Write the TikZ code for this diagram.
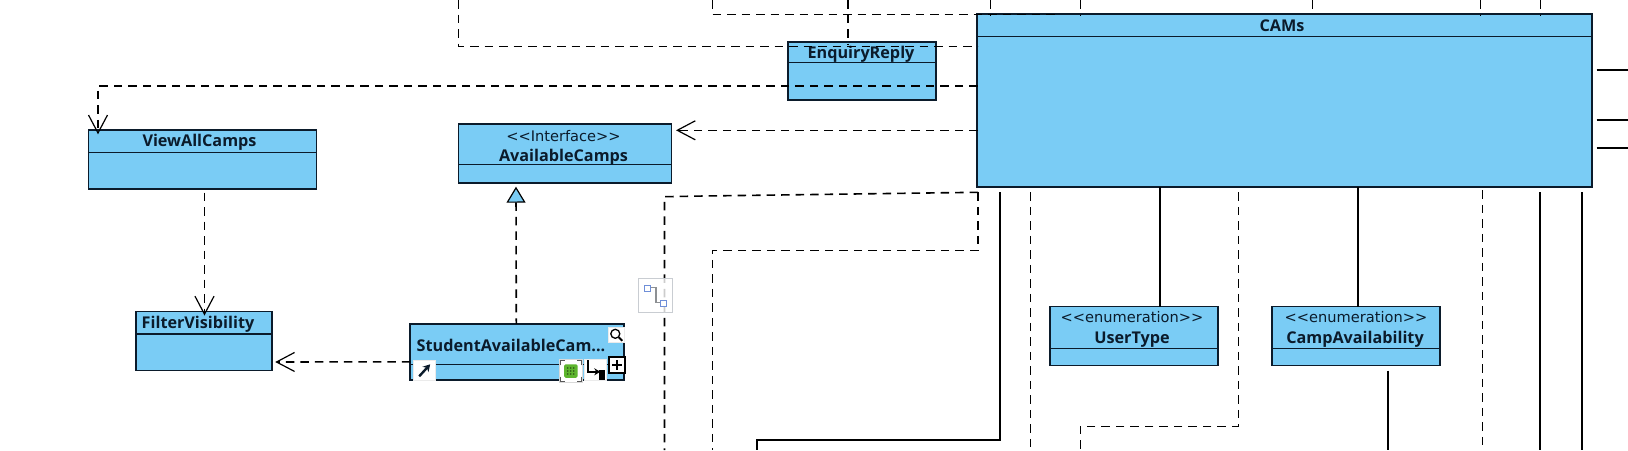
\documentclass[tikz,border=0pt]{standalone}
\usepackage{fontspec}
\setmainfont{Open Sans}
\newfontfamily\stereofont{DejaVu Sans}
\usetikzlibrary{arrows,arrows.meta,calc}
\definecolor{classblue}{HTML}{7ACCF5}
\definecolor{classink}{HTML}{0B1B2B}
\definecolor{icongrey}{HTML}{C9CDD2}
\definecolor{iconblue}{HTML}{6F8FD8}
\definecolor{icongreen}{HTML}{5DB52E}

\begin{document}
\begin{tikzpicture}
  [
    x=1pt, y=-1pt,
    classbox/.style =
      {draw=classink, fill=classblue, rectangle, line width=1.7pt, inner sep=0pt, outer sep=0pt},
    classname/.style =
      {align=center, inner sep=0pt, text=classink, font=\fontsize{16.2}{20}\selectfont\bfseries},
    stereo/.style =
      {align=center, inner sep=0pt, text=classink, font=\fontsize{14.6}{19}\stereofont},
    divider/.style =
      {draw=classink, line width=1.5pt},
    dep/.style =
      {draw=black, line width=1.6pt, dash pattern=on 8.5pt off 6pt},
    deparrow/.style =
      {dep, -{Straight Barb[length=18pt, width=19pt, line width=1.2pt]}},
    realize/.style =
      {dep, {Triangle[open, fill=classblue, length=16pt, width=19pt, line width=1.2pt]}-},
    assoc/.style =
      {draw=black, line width=1.7pt},
    iconbox/.style =
      {draw=white!92!black, fill=white, rectangle, line width=.8pt, inner sep=0pt, outer sep=0pt}
  ]

\useasboundingbox (0,0) rectangle (1628,450);

\node[classbox, minimum width=228, minimum height=58.4] (viewall) at (202.5,159.5) {};
\node[classbox, minimum width=213, minimum height=58.4] (available) at (565,153.5) {};
\node[classbox, minimum width=135.5, minimum height=59] (filter) at (204,341) {};
\node[classbox, minimum width=213.4, minimum height=55.7] (student) at (517,351.8) {};
\node[classbox, minimum width=148, minimum height=58] (enquiry) at (862.3,71.3) {};
\node[classbox, minimum width=615.6, minimum height=173] (cams) at (1284.5,100.8) {};
\node[classbox, minimum width=167.4, minimum height=59] (usertype) at (1134,336) {};
\node[classbox, minimum width=167.4, minimum height=59] (campavail) at (1356,336) {};

\draw[divider] ($(viewall.north west)+(0,22)$) -- ($(viewall.north east)+(0,22)$);
\draw[divider] ($(available.north west)+(0,40)$) -- ($(available.north east)+(0,40)$);
\draw[divider] ($(filter.north west)+(0,22.5)$) -- ($(filter.north east)+(0,22.5)$);
\draw[divider] ($(student.north west)+(0,40.3)$) -- ($(student.north east)+(0,40.3)$);
\draw[divider] ($(enquiry.north west)+(0,20)$) -- ($(enquiry.north east)+(0,20)$);
\draw[divider] ($(cams.north west)+(0,22)$) -- ($(cams.north east)+(0,22)$);
\draw[divider] ($(usertype.north west)+(0,42)$) -- ($(usertype.north east)+(0,42)$);
\draw[divider] ($(campavail.north west)+(0,42)$) -- ($(campavail.north east)+(0,42)$);

\node[classname] (viewalltext) at (199.5,142) {ViewAllCamps};
\node[stereo] (availablestereo) at (563.5,136.5) {<{}<Interface>{}>};
\node[classname] (availabletext) at (563.5,157) {AvailableCamps};
\node[classname] (filtertext) at (198,324) {FilterVisibility};
\node[classname] (studenttext) at (511,345) {StudentAvailableCam...};
\node[classname] (enquirytext) at (861,54.5) {EnquiryReply};
\node[classname] (camstext) at (1282,25.5) {CAMs};
\node[stereo] (usertypestereo) at (1132,317.5) {<{}<enumeration>{}>};
\node[classname] (usertypetext) at (1132,339.5) {UserType};
\node[stereo] (campstereo) at (1356,317.5) {<{}<enumeration>{}>};
\node[classname] (camptext) at (1355,339.5) {CampAvailability};

\coordinate (topa) at (458.5,0);
\coordinate (topb) at (712.3,0);
\coordinate (topc) at (848,0);
\coordinate (topd) at (990.3,0);
\coordinate (tope) at (1080.3,0);
\coordinate (topf) at (1312.3,0);
\coordinate (topg) at (1480.3,0);
\coordinate (toph) at (1540.3,0);
\coordinate (sidea) at (1628,70.3);
\coordinate (sideb) at (1628,120.3);
\coordinate (sidec) at (1628,148.3);
\coordinate (bota) at (664.5,450);
\coordinate (botb) at (712.3,450);
\coordinate (botc) at (756.7,450);
\coordinate (botd) at (1030.3,450);
\coordinate (bote) at (1080.3,450);
\coordinate (botf) at (1388.3,450);
\coordinate (botg) at (1482.3,450);
\coordinate (both) at (1540.3,450);
\coordinate (boti) at (1582.3,450);

\draw [deparrow] ($(cams.west)+(1,-14.8)$) -| ($(viewall.north west)+(9.5,4)$);
\draw [deparrow] ($(cams.west)+(1,29.5)$) -- ($(available.north east)+(4.5,6)$);
\draw [dep] (topa) |- ($(cams.west)+(1,-54.5)$);
\draw [dep] (topb) |- ($(cams.north west)+(78,0)$);
\draw [dep] (topc) -- ++(0,44);
\draw [dep] (topd) -- ++(0,16);
\draw [dep] (tope) -- ++(0,16);
\draw [dep] (topf) -- ++(0,14);
\draw [dep] (topg) -- ++(0,16);
\draw [dep] (toph) -- ++(0,16);

\draw [deparrow] ($(viewall.south)+(2,4)$) -- ($(filter.north)+(0.5,4)$);
\draw [realize] ($(available.south west)+(57.5,4)$) -- ($(student.north)+(-0.7,0)$);
\draw [deparrow] ($(student.west)+(0,10)$) -- ($(filter.east)+(3.5,21)$);

\draw [dep] ($(cams.south west)+(1.5,5)$) -- (704,196) -- (664.5,196.7) -- (bota);
\draw [dep] ($(cams.south west)+(1.5,5)$) -- ++(0,58) -| (botb);
\draw [assoc] ($(cams.south west)+(23.6,5)$) |- (780,440) -| (botc);
\draw [dep] ($(cams.south west)+(53.6,5)$) -- (botd);
\draw [assoc] (cams.south -| 1160.3,0) -- (usertype.north -| 1160.3,0);
\draw [dep] ($(cams.south west)+(261.6,5)$) -- ++(0,234) -| (bote);
\draw [assoc] (cams.south -| 1358.3,0) -- (campavail.north -| 1358.3,0);
\draw [assoc] ($(campavail.south west)+(116,5)$) -- (botf);
\draw [dep] ($(cams.south west)+(505.6,3)$) -- (botg);
\draw [assoc] ($(cams.south west)+(563.6,5)$) -- (both);
\draw [assoc] ($(cams.south west)+(605.6,5)$) -- (boti);
\draw [assoc] ($(cams.north east)+(4.4,56)$) -- (sidea);
\draw [assoc] ($(cams.north east)+(4.4,106)$) -- (sideb);
\draw [assoc] ($(cams.north east)+(4.4,134)$) -- (sidec);

\node[draw=icongrey, fill=white, fill opacity=.8, rectangle, line width=1.2pt, inner sep=0pt, minimum size=34] (routehint) at (655.7,295.3) {};
\draw[icongrey!70!black, line width=1.2pt] (650.7,287.3) -- (656,287.3) -- (656,302.7) -- (660.7,302.7);
\node[draw=iconblue, fill=white, rectangle, line width=1pt, inner sep=0pt, minimum size=6.5] (hinta) at (647.3,288.3) {};
\node[draw=iconblue, fill=white, rectangle, line width=1pt, inner sep=0pt, minimum size=6.5] (hintb) at (663.7,303.7) {};

\node[iconbox, minimum width=21.7, minimum height=20.7] (linkicon) at (424.2,370.3) {};
\draw[line width=2.4pt, -{Stealth[length=7pt, width=8pt]}, classink] ($(linkicon.center)+(-5,6)$) -- ($(linkicon.center)+(6,-6)$);

\node[iconbox, minimum width=15.3, minimum height=15] (zoomicon) at (616.3,334.8) {};
\draw[line width=1.3pt] ($(zoomicon.center)+(-1,-1)$) circle (4.5);
\draw[line width=1.8pt] ($(zoomicon.center)+(2.5,2.5)$) -- ($(zoomicon.center)+(6,6)$);

\node[iconbox, draw=white!85!black, minimum width=23.7, minimum height=23.4] (resicon) at (570.8,371) {};
\draw[line width=1.3pt, gray!70!black] ($(resicon.north west)+(1.5,6)$) |- ($(resicon.north west)+(6,1.5)$);
\draw[line width=1.3pt, gray!70!black] ($(resicon.north east)+(-1.5,6)$) |- ($(resicon.north east)+(-6,1.5)$);
\draw[line width=1.3pt, gray!70!black] ($(resicon.south west)+(1.5,-6)$) |- ($(resicon.south west)+(6,-1.5)$);
\draw[line width=1.3pt, gray!70!black] ($(resicon.south east)+(-1.5,-6)$) |- ($(resicon.south east)+(-6,-1.5)$);
\node[fill=icongreen, rounded corners=1.5pt, minimum size=13.5, inner sep=0pt] (resgreen) at (resicon.center) {};
\foreach \dx in {-3,0,3} \foreach \dy in {-3,0,3}
  \fill[icongreen!45!black] ($(resgreen.center)+(\dx,\dy)$) circle (0.9);

\node[iconbox, minimum width=22.4, minimum height=21.4] (routeicon) at (595.5,370) {};
\draw[line width=1.7pt] ($(routeicon.north west)+(3.5,1)$) |- ($(routeicon.north west)+(13,13)$);
\draw[line width=1.7pt, -{Stealth[length=6pt, width=7pt]}] ($(routeicon.north west)+(3.5,12.5)$) -- ($(routeicon.north west)+(16,12.5)$);
\fill ($(routeicon.north west)+(15,11)$) rectangle ($(routeicon.north west)+(21,21)$);

\node[draw=black, fill=white, rectangle, line width=1.8pt, inner sep=0pt, minimum size=16] (plusicon) at (617,365) {};
\draw[line width=1.6pt] ($(plusicon.center)+(-5,0)$) -- ($(plusicon.center)+(5,0)$);
\draw[line width=1.6pt] ($(plusicon.center)+(0,-5)$) -- ($(plusicon.center)+(0,5)$);

\end{tikzpicture}
\end{document}
